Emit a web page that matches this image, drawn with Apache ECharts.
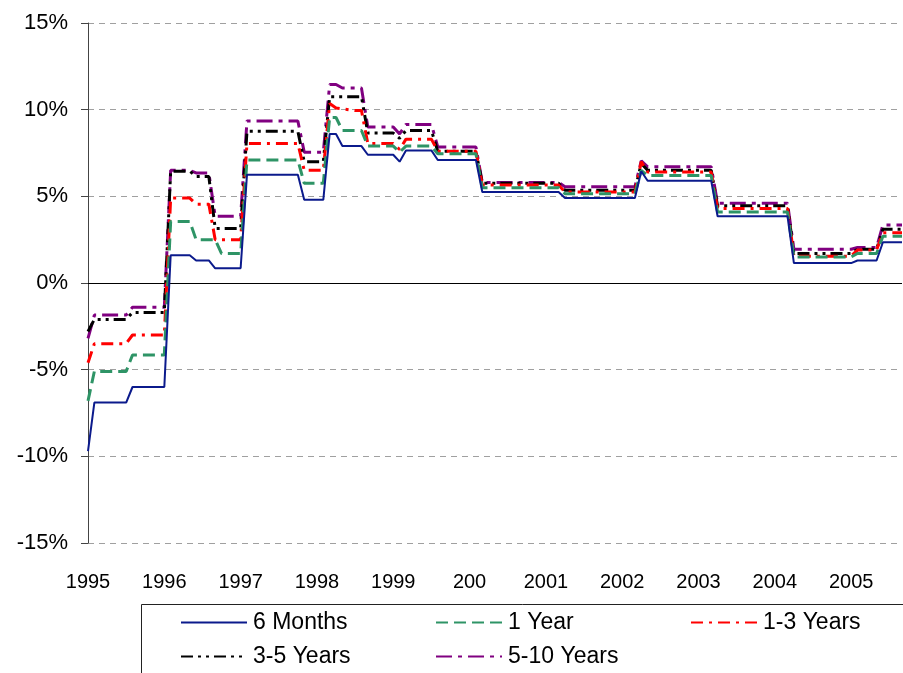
<!DOCTYPE html>
<html>
<head>
<meta charset="utf-8">
<script src="https://cdn.jsdelivr.net/npm/echarts@6/dist/echarts.min.js"></script>
<style>
  html, body { margin: 0; padding: 0; background: #fff; }
  #chart { width: 903px; height: 673px; }
</style>
</head>
<body>
<div id="chart"></div>
<script>
// Monthly returns (%), January 1995 to September 2005, one row per year.
const sixMonths = [
  -9.7, -6.9, -6.9, -6.9, -6.9, -6.9, -6.9, -6.0, -6.0, -6.0, -6.0, -6.0,
  -6.0, 1.6, 1.6, 1.6, 1.6, 1.3, 1.3, 1.3, 0.85, 0.85, 0.85, 0.85,
  0.85, 6.25, 6.25, 6.25, 6.25, 6.25, 6.25, 6.25, 6.25, 6.25, 4.8, 4.8,
  4.8, 4.8, 8.6, 8.6, 7.9, 7.9, 7.9, 7.9, 7.4, 7.4, 7.4, 7.4,
  7.4, 7.0, 7.65, 7.65, 7.65, 7.65, 7.65, 7.1, 7.1, 7.1, 7.1, 7.1,
  7.1, 7.1, 5.25, 5.25, 5.25, 5.25, 5.25, 5.25, 5.25, 5.25, 5.25, 5.25,
  5.25, 5.25, 5.25, 4.9, 4.9, 4.9, 4.9, 4.9, 4.9, 4.9, 4.9, 4.9,
  4.9, 4.9, 4.9, 6.45, 5.9, 5.9, 5.9, 5.9, 5.9, 5.9, 5.9, 5.9,
  5.9, 5.9, 5.9, 3.85, 3.85, 3.85, 3.85, 3.85, 3.85, 3.85, 3.85, 3.85,
  3.85, 3.85, 3.85, 1.15, 1.15, 1.15, 1.15, 1.15, 1.15, 1.15, 1.15, 1.15,
  1.15, 1.3, 1.3, 1.3, 1.3, 2.35, 2.35, 2.35, 2.35
];
const oneYear = [
  -6.8, -5.1, -5.1, -5.1, -5.1, -5.1, -5.1, -4.15, -4.15, -4.15, -4.15, -4.15,
  -4.15, 3.55, 3.55, 3.55, 3.55, 2.5, 2.5, 2.5, 2.5, 1.7, 1.7, 1.7,
  1.7, 7.1, 7.1, 7.1, 7.1, 7.1, 7.1, 7.1, 7.1, 7.1, 5.75, 5.75,
  5.75, 5.75, 9.55, 9.55, 8.8, 8.8, 8.8, 8.8, 7.9, 7.9, 7.9, 7.9,
  7.9, 7.55, 7.9, 7.9, 7.9, 7.9, 7.9, 7.45, 7.45, 7.45, 7.45, 7.45,
  7.45, 7.45, 5.5, 5.5, 5.5, 5.5, 5.5, 5.5, 5.5, 5.5, 5.5, 5.5,
  5.5, 5.5, 5.5, 5.15, 5.15, 5.15, 5.15, 5.15, 5.15, 5.15, 5.15, 5.15,
  5.15, 5.15, 5.15, 6.5, 6.2, 6.2, 6.2, 6.2, 6.2, 6.2, 6.2, 6.2,
  6.2, 6.2, 6.2, 4.1, 4.1, 4.1, 4.1, 4.1, 4.1, 4.1, 4.1, 4.1,
  4.1, 4.1, 4.1, 1.5, 1.5, 1.5, 1.5, 1.5, 1.5, 1.5, 1.5, 1.5,
  1.5, 1.7, 1.7, 1.7, 1.7, 2.7, 2.7, 2.7, 2.7
];
const oneToThree = [
  -4.6, -3.5, -3.5, -3.5, -3.5, -3.5, -3.5, -3.0, -3.0, -3.0, -3.0, -3.0,
  -3.0, 4.9, 4.9, 4.9, 4.9, 4.55, 4.55, 4.55, 2.5, 2.5, 2.5, 2.5,
  2.5, 8.05, 8.05, 8.05, 8.05, 8.05, 8.05, 8.05, 8.05, 8.05, 6.5, 6.5,
  6.5, 6.5, 10.35, 10.1, 10.05, 10.0, 9.95, 9.95, 8.05, 8.05, 8.05, 8.05,
  8.05, 7.7, 8.3, 8.3, 8.3, 8.3, 8.3, 7.6, 7.6, 7.6, 7.6, 7.6,
  7.6, 7.6, 5.65, 5.65, 5.65, 5.65, 5.65, 5.65, 5.65, 5.65, 5.65, 5.65,
  5.65, 5.65, 5.65, 5.25, 5.25, 5.25, 5.25, 5.25, 5.25, 5.25, 5.25, 5.25,
  5.25, 5.25, 5.25, 7.0, 6.4, 6.4, 6.4, 6.4, 6.4, 6.4, 6.4, 6.4,
  6.4, 6.4, 6.4, 4.3, 4.3, 4.3, 4.3, 4.3, 4.3, 4.3, 4.3, 4.3,
  4.3, 4.3, 4.3, 1.55, 1.55, 1.55, 1.55, 1.55, 1.55, 1.55, 1.55, 1.55,
  1.55, 1.9, 1.9, 1.9, 1.9, 2.9, 2.9, 2.9, 2.9
];
const threeToFive = [
  -2.8, -2.1, -2.1, -2.1, -2.1, -2.1, -2.1, -1.7, -1.7, -1.7, -1.7, -1.7,
  -1.7, 6.45, 6.45, 6.45, 6.45, 6.15, 6.15, 6.15, 3.15, 3.15, 3.15, 3.15,
  3.15, 8.75, 8.75, 8.75, 8.75, 8.75, 8.75, 8.75, 8.75, 8.75, 7.0, 7.0,
  7.0, 7.0, 10.75, 10.75, 10.75, 10.75, 10.75, 10.75, 8.65, 8.65, 8.65, 8.65,
  8.65, 8.35, 8.8, 8.8, 8.8, 8.8, 8.8, 7.6, 7.6, 7.6, 7.6, 7.6,
  7.6, 7.6, 5.75, 5.75, 5.75, 5.75, 5.75, 5.75, 5.75, 5.75, 5.75, 5.75,
  5.75, 5.75, 5.75, 5.35, 5.35, 5.35, 5.35, 5.35, 5.35, 5.35, 5.35, 5.35,
  5.35, 5.35, 5.35, 6.9, 6.5, 6.5, 6.5, 6.5, 6.5, 6.5, 6.5, 6.5,
  6.5, 6.5, 6.5, 4.45, 4.45, 4.45, 4.45, 4.45, 4.45, 4.45, 4.45, 4.45,
  4.45, 4.45, 4.45, 1.7, 1.7, 1.7, 1.7, 1.7, 1.7, 1.7, 1.7, 1.7,
  1.7, 1.95, 1.95, 1.95, 1.95, 3.1, 3.1, 3.1, 3.1
];
const fiveToTen = [
  -3.2, -1.85, -1.85, -1.85, -1.85, -1.85, -1.85, -1.4, -1.4, -1.4, -1.4, -1.4,
  -1.4, 6.5, 6.5, 6.5, 6.5, 6.35, 6.35, 6.35, 3.85, 3.85, 3.85, 3.85,
  3.85, 9.35, 9.35, 9.35, 9.35, 9.35, 9.35, 9.35, 9.35, 9.35, 7.55, 7.55,
  7.55, 7.55, 11.45, 11.45, 11.25, 11.25, 11.25, 11.25, 9.0, 9.0, 9.0, 9.0,
  9.0, 8.6, 9.15, 9.15, 9.15, 9.15, 9.15, 7.85, 7.85, 7.85, 7.85, 7.85,
  7.85, 7.85, 5.8, 5.8, 5.8, 5.8, 5.8, 5.8, 5.8, 5.8, 5.8, 5.8,
  5.8, 5.8, 5.8, 5.55, 5.55, 5.55, 5.55, 5.55, 5.55, 5.55, 5.55, 5.55,
  5.55, 5.55, 5.55, 7.05, 6.7, 6.7, 6.7, 6.7, 6.7, 6.7, 6.7, 6.7,
  6.7, 6.7, 6.7, 4.6, 4.6, 4.6, 4.6, 4.6, 4.6, 4.6, 4.6, 4.6,
  4.6, 4.6, 4.6, 1.95, 1.95, 1.95, 1.95, 1.95, 1.95, 1.95, 1.95, 1.95,
  1.95, 2.05, 2.05, 2.05, 2.05, 3.35, 3.35, 3.35, 3.35
];

// Year labels shown under each January
const yearLabels = ['1995', '1996', '1997', '1998', '1999', '200', '2001', '2002', '2003', '2004', '2005'];
const seriesNames = ['6 Months', '1 Year', '1-3 Years', '3-5 Years', '5-10 Years'];

// Month categories (one per data point)
const months = [];
for (let i = 0; i < sixMonths.length; i++) {
  const y = 1995 + Math.floor(i / 12);
  const m = (i % 12) + 1;
  months.push(y + '-' + (m < 10 ? '0' : '') + m);
}

const FONT = '"Liberation Sans", Arial, Helvetica, sans-serif';

function lineSeries(name, data, color, width, dash, extra) {
  return Object.assign({
    name: name,
    type: 'line',
    data: data,
    showSymbol: false,
    symbol: 'none',
    smooth: false,
    lineStyle: { color: color, width: width, type: dash },
    itemStyle: { color: color },
    emphasis: { disabled: true }
  }, extra || {});
}

const chart = echarts.init(document.getElementById('chart'), null, { renderer: 'canvas' });

function legendAt(name, left, top) {
  return {
    data: [name],
    left: left,
    top: top,
    padding: 0,
    itemWidth: 66,
    itemHeight: 14,
    itemGap: 0,
    itemStyle: { opacity: 0 },
    textStyle: { fontFamily: FONT, fontSize: 23, color: '#000', padding: [0, 0, 0, 1] },
    selectedMode: false
  };
}

chart.setOption({
  animation: false,
  backgroundColor: '#fff',
  textStyle: { fontFamily: FONT },
  grid: { left: 88, right: 1, top: 23, bottom: 130, containLabel: false },
  xAxis: {
    type: 'category',
    data: months,
    boundaryGap: false,
    axisLine: { show: false, onZero: false },
    axisTick: { show: false },
    splitLine: { show: false },
    axisLabel: {
      interval: 11,
      margin: 29,
      fontSize: 20,
      color: '#000',
      fontFamily: FONT,
      formatter: function (value, idx) { return yearLabels[Math.floor(idx / 12)]; }
    }
  },
  yAxis: {
    type: 'value',
    min: -15,
    max: 15,
    interval: 5,
    axisLine: { show: true, lineStyle: { color: '#444', width: 1 } },
    axisTick: { show: true, length: 7, lineStyle: { color: '#444', width: 1 } },
    axisLabel: {
      margin: 20,
      fontSize: 22,
      color: '#000',
      fontFamily: FONT,
      formatter: '{value}%'
    },
    splitLine: { show: true, lineStyle: { color: '#a0a0a0', width: 1, type: [6, 5] } }
  },
  legend: [
    legendAt(seriesNames[0], 180, 611),
    legendAt(seriesNames[1], 435, 611),
    legendAt(seriesNames[2], 690, 611),
    legendAt(seriesNames[3], 180, 645),
    legendAt(seriesNames[4], 435, 645)
  ],
  graphic: [{
    type: 'rect',
    shape: { x: 141.5, y: 604.5, width: 800, height: 120 },
    style: { fill: 'none', stroke: '#222', lineWidth: 1 },
    silent: true
  }],
  series: [
    lineSeries(seriesNames[0], sixMonths, '#0b1a8c', 2, 'solid', {
      z: 7,
      markLine: {
        silent: true,
        symbol: 'none',
        label: { show: false },
        lineStyle: { color: '#000', type: 'solid', width: 1.2 },
        data: [{ yAxis: 0 }]
      }
    }),
    lineSeries(seriesNames[1], oneYear, '#2e9466', 3, [12, 6], { z: 6 }),
    lineSeries(seriesNames[2], oneToThree, '#ff0000', 3, [12, 6, 3, 6], { z: 5 }),
    lineSeries(seriesNames[3], threeToFive, '#000000', 3, [12, 5, 3, 5, 3, 5], { z: 4 }),
    lineSeries(seriesNames[4], fiveToTen, '#800080', 3, [16, 6, 4, 6], { z: 3 })
  ]
});
</script>
</body>
</html>
